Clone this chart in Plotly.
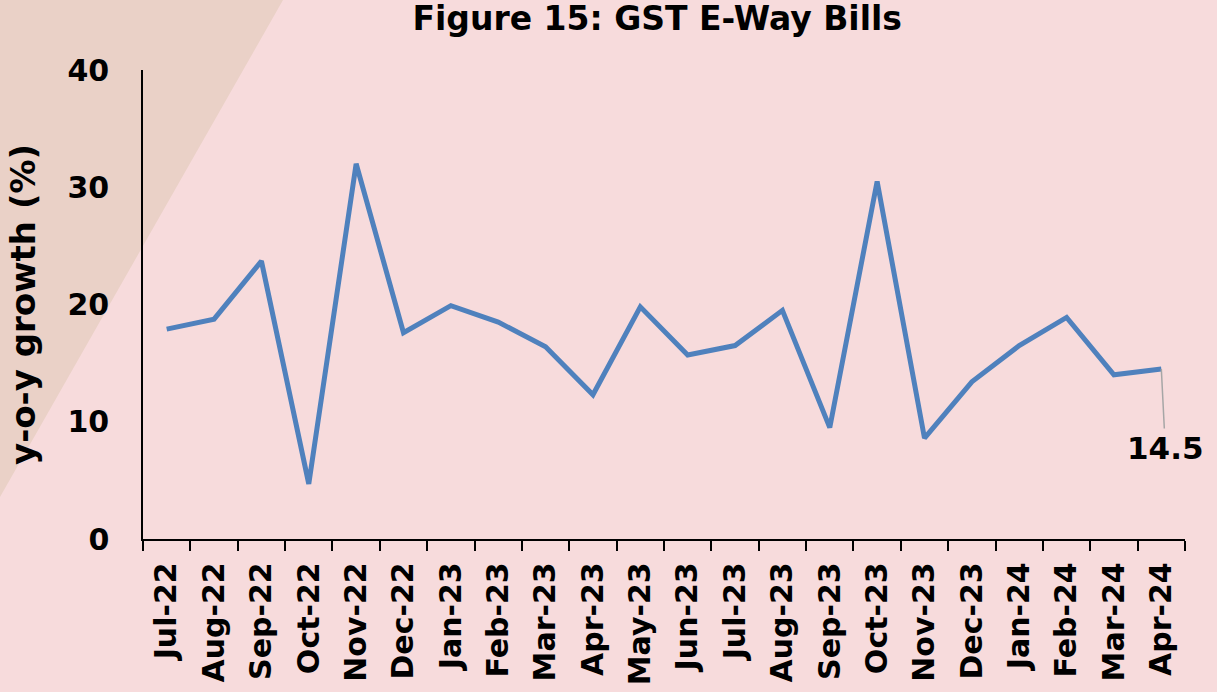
import plotly.graph_objects as go

months = ["Jul-22", "Aug-22", "Sep-22", "Oct-22", "Nov-22", "Dec-22", "Jan-23", "Feb-23",
          "Mar-23", "Apr-23", "May-23", "Jun-23", "Jul-23", "Aug-23", "Sep-23", "Oct-23",
          "Nov-23", "Dec-23", "Jan-24", "Feb-24", "Mar-24", "Apr-24"]
growth = [17.9, 18.75, 23.7, 4.7, 32.0, 17.6, 19.9, 18.5, 16.4, 12.3, 19.8, 15.7,
          16.5, 19.5, 9.5, 30.5, 8.6, 13.4, 16.5, 18.9, 14.0, 14.5]

FONT = "DejaVu Sans"
W, H = 1217, 692
L, R, T, B = 143, 32, 70, 153
pw, ph = W - L - R, H - T - B

def px(x):
    return (x - L) / pw

def py(y):
    return (H - B - y) / ph

fig = go.Figure()
fig.add_trace(go.Scatter(x=months, y=growth, mode="lines",
                         line=dict(color="#4F81BD", width=5), hoverinfo="skip"))

band = f"M {px(0)},{py(0)} L {px(283)},{py(0)} L {px(0)},{py(497)} Z"
fig.add_shape(type="path", path=band, xref="paper", yref="paper",
              fillcolor="#EAD1C7", line=dict(width=0), layer="below")

fig.add_annotation(x=months[-1], y=growth[-1], text="<b>14.5</b>",
                   showarrow=True, arrowhead=0, arrowwidth=1.5, arrowcolor="#A6A6A6",
                   ax=4, ay=79, font=dict(family=FONT, size=31, color="black"))

fig.update_layout(
    width=W, height=H,
    margin=dict(l=L, r=R, t=T, b=B, autoexpand=False),
    paper_bgcolor="#F7DBDC",
    plot_bgcolor="rgba(0,0,0,0)",
    showlegend=False,
    title=dict(text="<b>Figure 15: GST E-Way Bills</b>", x=0.54, xanchor="center",
               y=0.99, yanchor="top", font=dict(family=FONT, size=33, color="black")),
    xaxis=dict(range=[-0.5, len(months) - 0.5], automargin=False,
               showline=True, linecolor="black", linewidth=1.5, ticks="outside",
               tickson="boundaries", ticklen=10, tickcolor="black", tickwidth=1.5,
               tickangle=-90, showgrid=False, zeroline=False,
               tickfont=dict(family=FONT, size=30, color="black"),
               tickprefix="<b>", ticksuffix="</b>\u00a0"),
    yaxis=dict(range=[0, 40], dtick=10, automargin=False,
               showline=True, linecolor="black", linewidth=1.5,
               ticks="outside", ticklen=26, tickcolor="rgba(0,0,0,0)",
               showgrid=False, zeroline=False,
               tickfont=dict(family=FONT, size=30, color="black"),
               tickprefix="<b>", ticksuffix="</b>",
               title=dict(text="<b>y-o-y growth (%)</b>", standoff=22,
                          font=dict(family=FONT, size=34, color="black"))),
)

fig.write_html("out.html", config={"displayModeBar": False},
               post_script="document.body.style.margin='0';document.body.style.overflow='hidden';")
